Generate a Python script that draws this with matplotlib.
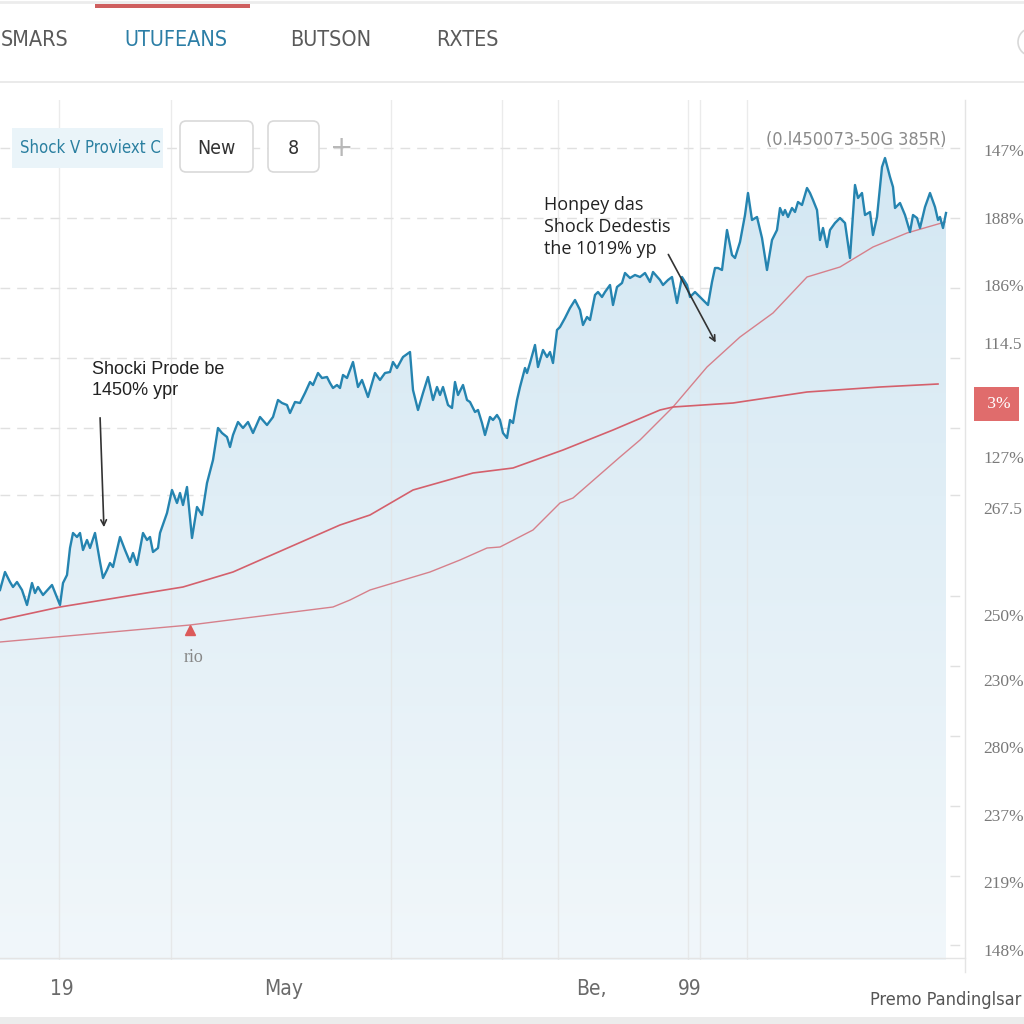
import numpy as np
import matplotlib.pyplot as plt
from matplotlib.patches import Rectangle, FancyBboxPatch, Circle, Polygon
from matplotlib.lines import Line2D

# header tabs and bottom labels
tab_names = ['SMARS', 'UTUFEANS', 'BUTSON', 'RXTES']
bottom_days = [62, 284, 591, 690]
bottom_labels = ['19', 'May', 'Be,', '99']

# right axis ticks (labels as shown, not monotonic)
right_levels = [850, 782, 715, 657, 598, 543, 492, 385, 320, 253, 185, 118, 50]
right_labels = ['147%', '188%', '186%', '114.5', ' 3%', '127%', '267.5',
                '250%', '230%', '280%', '237%', '219%', '148%']

# price series (blue)
days = [0, 5, 10, 13, 17, 22, 27, 32, 35, 38,
        43, 52, 60, 63, 67, 70, 73, 77, 80, 83,
        87, 90, 95, 100, 103, 107, 110, 113, 120, 125,
        130, 133, 137, 143, 147, 150, 153, 158, 160, 167,
        172, 177, 180, 183, 187, 192, 197, 202, 207, 213,
        218, 222, 227, 230, 233, 238, 243, 248, 253, 260,
        267, 273, 278, 282, 287, 290, 295, 300, 305, 310,
        313, 318, 322, 327, 330, 333, 337, 340, 343, 347,
        353, 358, 362, 368, 375, 380, 385, 390, 393, 397,
        403, 410, 413, 418, 423, 428, 433, 437, 440, 443,
        448, 452, 455, 458, 463, 467, 470, 475, 478, 482,
        485, 490, 493, 497, 500, 503, 507, 510, 513, 517,
        520, 525, 527, 530, 535, 538, 543, 547, 550, 553,
        557, 560, 565, 570, 575, 580, 583, 587, 590, 595,
        598, 602, 605, 610, 613, 617, 622, 625, 630, 635,
        640, 645, 650, 653, 660, 663, 668, 672, 677, 682,
        687, 690, 695, 700, 703, 708, 712, 715, 718, 722,
        727, 732, 735, 740, 745, 748, 752, 757, 762, 767,
        772, 777, 780, 783, 785, 788, 792, 795, 798, 802,
        807, 810, 813, 817, 820, 823, 827, 830, 835, 840,
        845, 850, 855, 858, 862, 865, 870, 873, 877, 882,
        885, 890, 893, 895, 900, 905, 910, 913, 917, 920,
        925, 930, 935, 938, 940, 943, 946]
price = [410, 428, 418, 413, 418, 410, 395, 417, 407, 413,
         405, 415, 395, 417, 425, 452, 467, 463, 467, 450,
         460, 452, 467, 438, 422, 430, 437, 433, 463, 450,
         438, 447, 435, 467, 460, 463, 448, 452, 467, 487,
         510, 497, 507, 495, 513, 462, 493, 485, 517, 540,
         572, 567, 563, 553, 565, 578, 572, 578, 567, 583,
         575, 583, 600, 597, 595, 587, 598, 597, 607, 618,
         615, 627, 622, 623, 617, 612, 615, 612, 625, 622,
         638, 613, 620, 603, 627, 620, 627, 628, 638, 632,
         643, 648, 610, 590, 607, 623, 600, 613, 605, 613,
         595, 592, 618, 605, 615, 600, 598, 588, 590, 577,
         565, 583, 580, 585, 580, 567, 562, 580, 577, 600,
         613, 632, 627, 637, 655, 633, 650, 643, 648, 637,
         670, 673, 682, 692, 700, 690, 675, 683, 680, 705,
         708, 703, 708, 715, 695, 713, 717, 727, 722, 725,
         723, 727, 718, 728, 720, 715, 720, 723, 697, 723,
         715, 703, 708, 703, 700, 695, 718, 732, 732, 730,
         770, 745, 742, 758, 785, 807, 780, 783, 762, 730,
         760, 770, 792, 785, 790, 783, 792, 788, 798, 795,
         812, 807, 800, 790, 760, 772, 753, 770, 777, 782,
         777, 742, 815, 802, 807, 785, 788, 765, 783, 833,
         842, 823, 813, 792, 797, 785, 768, 785, 782, 772,
         793, 807, 793, 780, 783, 772, 787]

# two red average lines
avg_a_days = [0, 60, 183, 233, 283, 340, 370, 413, 473, 513, 563, 613, 660, 673, 733, 807, 880, 938]
avg_a = [380, 393, 413, 428, 450, 475, 485, 510, 527, 532, 550, 570, 590, 593, 597, 608, 613, 616]
avg_b_days = [0, 190, 333, 350, 370, 430, 460, 487, 500, 533, 560, 573, 620, 640, 673, 707,
              740, 773, 807, 840, 873, 907, 945]
avg_b = [358, 375, 393, 400, 410, 428, 440, 452, 453, 470, 497, 502, 543, 560, 593, 633,
         663, 687, 723, 733, 753, 767, 778]

marker_day = [190]
marker_level = [370]

hgrid = [852, 782, 712, 642, 572, 505, 404, 334, 264, 194, 124, 55]
vgrid = [59, 171, 391, 502, 558, 688, 700, 747]

narrow = dict(family='DejaVu Sans', stretch='condensed')

W = 1024
def fx(px):
    return px / W
def fy(py):
    return 1 - py / W

fig = plt.figure(figsize=(10.24, 10.24), dpi=100)
fig.patch.set_facecolor('white')
ax = fig.add_axes([0, fy(960), fx(965), (960 - 100) / W])

# gradient fill under the price line
grad = np.linspace(0, 1, 256)[:, None, None]
top = np.array([0.830, 0.908, 0.952])
bot = np.array([0.945, 0.968, 0.982])
img = top + (bot - top) * grad
im = ax.imshow(img, extent=[days[0], days[-1], 40, max(price)], aspect='auto',
               origin='upper', zorder=1)
poly = Polygon(np.column_stack([np.r_[days, days[-1], days[0]], np.r_[price, 40, 40]]),
               closed=True, facecolor='none', edgecolor='none')
ax.add_patch(poly)
im.set_clip_path(poly)

# dashed rows sit behind the fill, columns show faintly through it
for lv in hgrid:
    ax.axhline(lv, color='#e0e0e0', lw=1, ls=(0, (7, 5)), zorder=0.5)
for d in vgrid:
    ax.axvline(d, color='#e3e3e3', lw=1, zorder=2, alpha=0.7)

ax.plot(avg_b_days, avg_b, color='#d6808b', lw=1.0, zorder=4)
ax.plot(avg_a_days, avg_a, color='#d4606c', lw=1.2, zorder=4)
ax.plot(days, price, color='#2584b0', lw=1.7, zorder=5)
ax.plot(marker_day, marker_level, marker='^', color='#dc5a5a', ms=7, ls='none', zorder=6)
ax.text(194, 343, 'rio', fontsize=13, color='#888888', family='Liberation Serif',
        ha='center', va='center', zorder=6)

ax.set_xlim(0, 965)
ax.set_ylim(40, 900)
for s in ax.spines.values():
    s.set_visible(False)

ax.yaxis.tick_right()
ax.set_yticks(right_levels)
ax.set_yticklabels(right_labels, family='Liberation Serif', fontsize=12.5, color='#7a7a7a')
ax.tick_params(axis='y', length=0, pad=13)
box_lbl = ax.yaxis.get_major_ticks()[4].label2
box_lbl.set_color('white')
box_lbl.set_bbox(dict(facecolor='#e06c6c', edgecolor='none', boxstyle='square,pad=0.5'))

ax.set_xticks(bottom_days)
ax.set_xticklabels(bottom_labels, fontsize=15, color='#6a6a6a', **narrow)
ax.tick_params(axis='x', length=0, pad=14)

# annotations
ax.text(92, 620, 'Shocki Prode be\n1450% ypr', fontsize=13, color='#222222',
        family='Liberation Sans', va='center', ha='left', linespacing=1.35, zorder=7)
ax.annotate('', xy=(104, 470), xytext=(100, 585),
            arrowprops=dict(arrowstyle='->', color='#333333', lw=1.2), zorder=7)
ax.text(544, 773, 'Honpey das\nShock Dedestis\nthe 1019% yp', fontsize=13, color='#222222',
        family=['Open Sans', 'DejaVu Sans'], va='center', ha='left', linespacing=1.3, zorder=7)
ax.annotate('', xy=(717, 655), xytext=(667, 748),
            arrowprops=dict(arrowstyle='->', color='#333333', lw=1.2), zorder=7)

# frame lines around plot
fig.add_artist(Line2D([fx(965), fx(965)], [fy(100), fy(972)], color='#e4e4e4', lw=1))
fig.add_artist(Line2D([0, fx(965)], [fy(958), fy(958)], color='#e4e4e4', lw=1))

# header
fig.add_artist(Line2D([0, 1], [fy(2), fy(2)], color='#ececec', lw=2))
fig.add_artist(Line2D([0, 1], [fy(82), fy(82)], color='#e6e6e6', lw=1.2))
fig.add_artist(Rectangle((fx(95), fy(8)), fx(155), 4 / W, facecolor='#cf5f5f', edgecolor='none'))
tab_x = [1, 124, 290, 436]
for name, x in zip(tab_names, tab_x):
    col = '#2c7ea6' if name == 'UTUFEANS' else '#5a5a5a'
    fig.text(fx(x), fy(40), name, fontsize=15.5, color=col, ha='left', va='center', **narrow)
fig.add_artist(Circle((fx(1032), fy(42)), 14 / W, facecolor='none', edgecolor='#d8d8d8', lw=1.2))

# toolbar row
fig.add_artist(Rectangle((fx(12), fy(168)), fx(151), 40 / W, facecolor='#eaf4f9', edgecolor='none', zorder=2))
fig.text(fx(20), fy(148), 'Shock V Proviext C', fontsize=12, color='#2a7fa0',
         ha='left', va='center', zorder=3, **narrow)
for x0, w, label in [(180, 73, 'New'), (268, 51, '8')]:
    fig.add_artist(FancyBboxPatch((fx(x0), fy(172)), fx(w), 51 / W,
                                  boxstyle='round,pad=0,rounding_size=0.006',
                                  facecolor='white', edgecolor='#d9d9d9', lw=1.2, zorder=2))
    fig.text(fx(x0 + w / 2), fy(148), label, fontsize=14, color='#333333',
             ha='center', va='center', zorder=3, **narrow)
fig.text(fx(342), fy(148), '+', fontsize=20, color='#b8b8b8', ha='center', va='center')
fig.text(fx(946), fy(140), '(0.l450073-50G 385R)', fontsize=13, color='#8a8a8a',
         ha='right', va='center', **narrow)

# footer
fig.text(fx(870), fy(1000), 'Premo Pandinglsar', fontsize=13, color='#555555',
         ha='left', va='center', **narrow)
fig.add_artist(Rectangle((0, 0), 1, 7 / W, facecolor='#ececec', edgecolor='none'))

fig.savefig('out.png', dpi=100)
